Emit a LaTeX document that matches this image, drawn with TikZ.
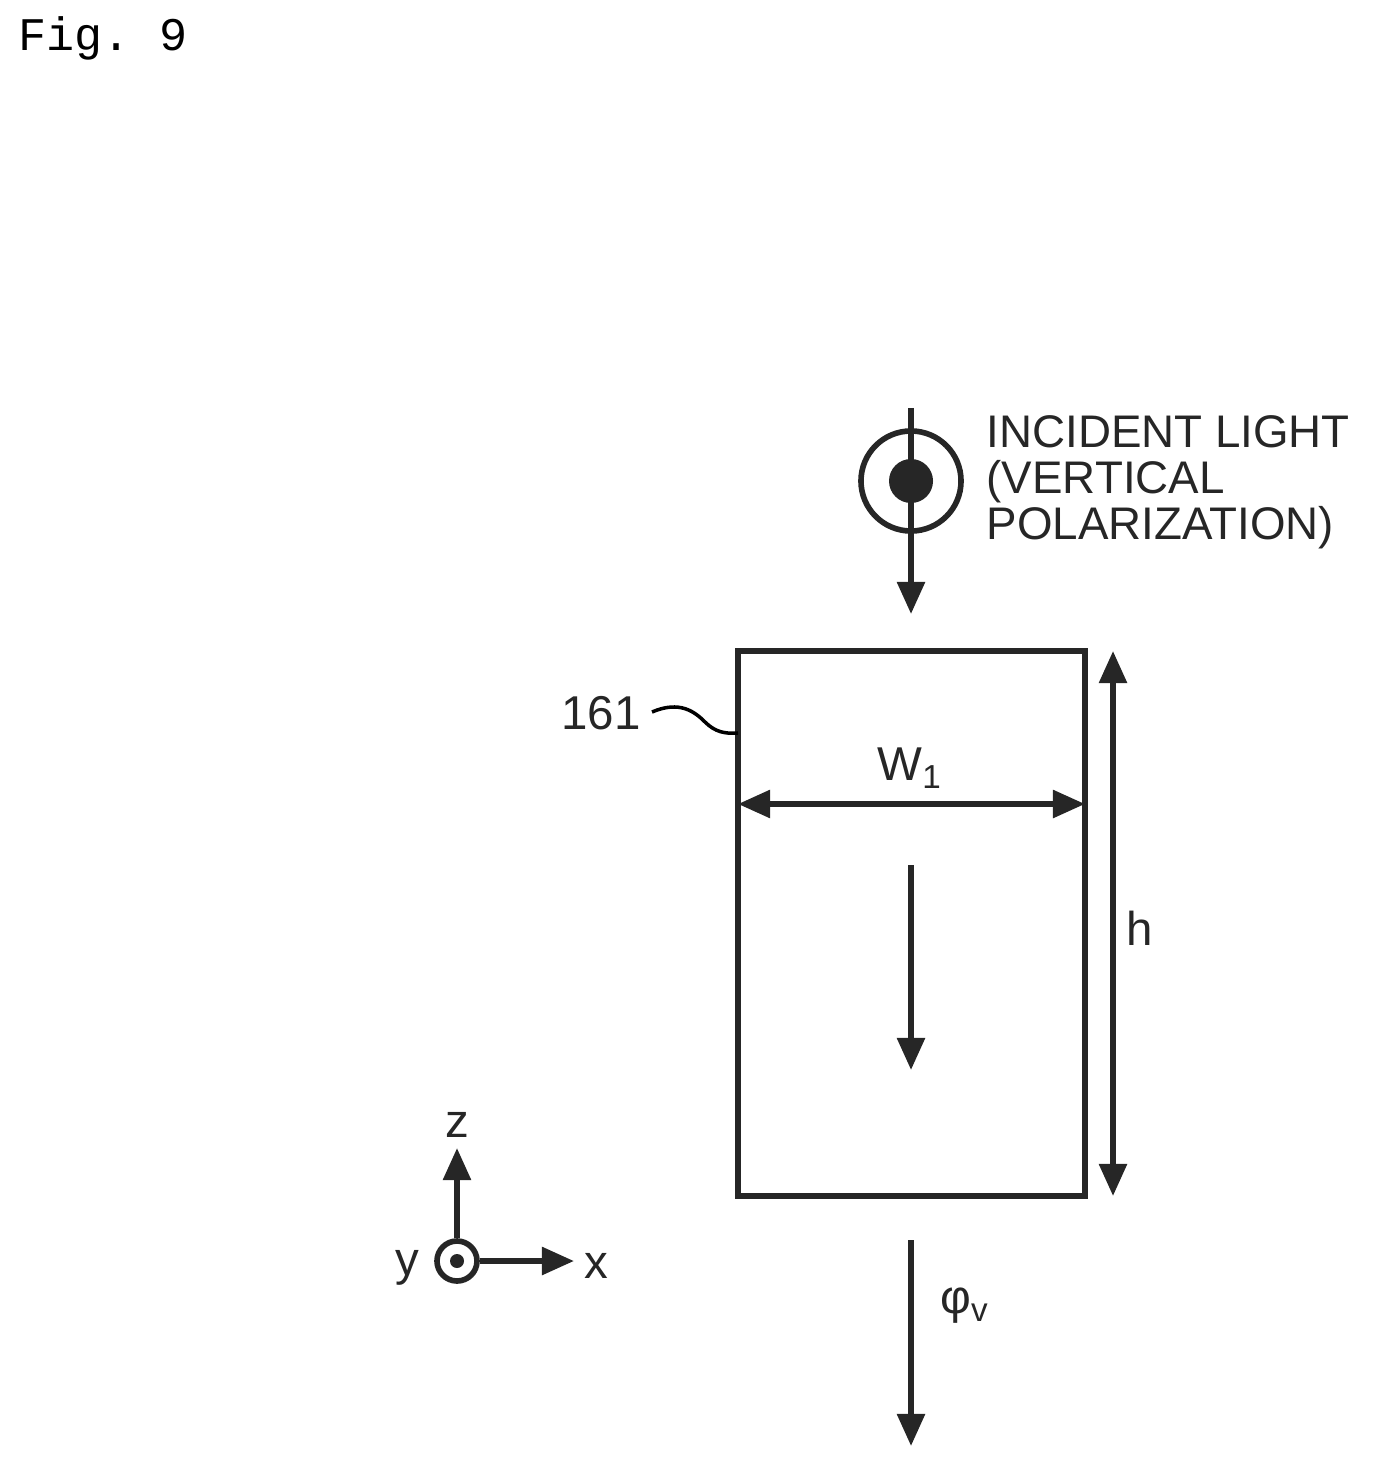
\documentclass[tikz,border=0pt]{standalone}
\usepackage{fontspec}
\setmainfont{Liberation Sans}
\setmonofont{Liberation Mono}
\usetikzlibrary{arrows.meta}
\begin{document}
\begin{tikzpicture}[x=0.01cm,y=-0.01cm,
  ln/.style={line width=1.6pt,black!85},
  arr/.style={ln,-{Triangle[length=0.32cm,width=0.27cm]}},
  darr/.style={ln,{Triangle[length=0.32cm,width=0.27cm]}-{Triangle[length=0.32cm,width=0.27cm]}},
  lbl/.style={font=\fontsize{13.5}{16}\selectfont,inner sep=0pt,text=black!85}]
\useasboundingbox (0,0) rectangle (1380,1467);
\node[font=\ttfamily\fontsize{13.3}{16}\selectfont,anchor=west,inner sep=0pt] (fig) at (18,38) {Fig. 9};
% incident light
\coordinate (i0) at (911,408); \coordinate (i1) at (911,614);
\draw[arr] (i0) -- (i1);
\node[ln,circle,draw,minimum size=1cm,inner sep=0pt] (c) at (911,481) {};
\node[circle,fill=black!85,minimum size=0.44cm,inner sep=0pt] (d) at (911,481) {};
\node[lbl,anchor=west,align=left,font=\fontsize{13}{13.1}\selectfont] (t) at (986,482) {INCIDENT LIGHT\\(VERTICAL\\POLARIZATION)};
% box
\node[ln,draw,minimum width=3.47cm,minimum height=5.45cm,inner sep=0pt] (box) at (911.5,923.5) {};
\coordinate (h0) at (1113,651); \coordinate (h1) at (1113,1196);
\draw[darr] (h0) -- (h1);
\node[lbl] (h) at (1140,928) {h};
\coordinate (w0) at (738,804); \coordinate (w1) at (1085,804);
\draw[darr] (w0) -- (w1);
\node[lbl] (w) at (910,768) {W\textsubscript{1}};
\coordinate (a0) at (911,865); \coordinate (a1) at (911,1070);
\draw[arr] (a0) -- (a1);
\node[lbl] (n161) at (601,713) {161};
\coordinate (s0) at (652,712); \coordinate (s1) at (738,733);
\draw[line width=1pt] (s0) .. controls (680,700) and (695,712) .. (705,722) .. controls (715,732) and (725,734) .. (s1);
% axes
\node[ln,circle,draw,minimum size=0.4cm,inner sep=0pt] (o) at (457,1261) {};
\node[circle,fill=black!85,minimum size=0.14cm,inner sep=0pt] (od) at (457,1261) {};
\coordinate (zt) at (457,1148); \coordinate (xt) at (574,1261);
\draw[arr] (o.north) -- (zt);
\draw[arr] (o.east) -- (xt);
\node[lbl] (z) at (457,1125) {z};
\node[lbl] (x) at (596,1266) {x};
\node[lbl] (y) at (407,1268) {y};
% output
\coordinate (b0) at (911,1240); \coordinate (b1) at (911,1446);
\draw[arr] (b0) -- (b1);
\node[lbl] (phi) at (965,1306) {φ\textsubscript{v}};
\end{tikzpicture}
\end{document}
